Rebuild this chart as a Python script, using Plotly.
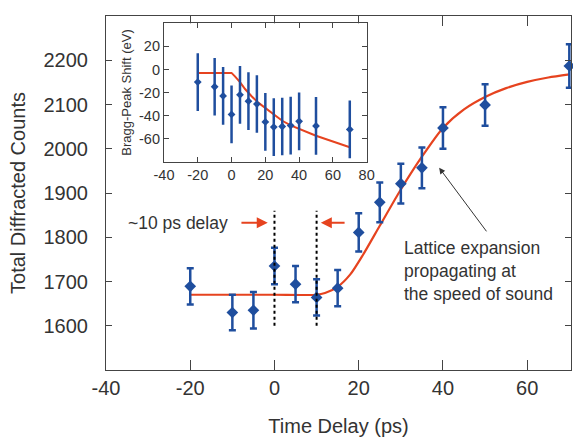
import plotly.graph_objects as go

# ---- main data: total diffracted counts vs time delay ----
time_ps = [-20, -10, -5, 0, 5, 10, 15, 20, 25, 30, 35, 40, 50, 70]
counts = [1689, 1630, 1635, 1735, 1694, 1664, 1685, 1811, 1879, 1921, 1957, 2047, 2099, 2187]
counts_err = [41, 40, 41, 41, 41, 41, 41, 43, 45, 45, 46, 47, 47, 49]

fit_time = [-20, -10, 0, 10, 12, 15, 18, 21, 25, 30, 35, 40, 45, 50, 55, 60, 65, 70]
fit_counts = [1670, 1670, 1670, 1670, 1674, 1688, 1716, 1760, 1826, 1908, 1982, 2047,
              2089, 2117, 2137, 2151, 2161, 2168]

# ---- inset data: Bragg-peak shift ----
inset_time = [-20, -10, -5, 0, 5, 10, 15, 20, 25, 30, 35, 40, 50, 70]
bragg_shift = [-11, -15, -23, -39, -22, -27.5, -30, -45.5, -50, -49.5, -48.7, -45, -49, -52]
bragg_err = [25] * len(inset_time)

inset_fit_time = [-20, 0, 2, 5, 8, 12, 16, 20, 25, 30, 35, 40, 50, 60, 70]
inset_fit_shift = [-3, -3, -6, -11, -17, -23.5, -29, -33.5, -39.5, -44.5, -48.5, -51.5,
                   -57.5, -62.5, -67.5]

# ---- ticks ----
main_xticks = [-40, -20, 0, 20, 40, 60]
main_yticks = [1600, 1700, 1800, 1900, 2000, 2100, 2200]
inset_xticks = [-40, -20, 0, 20, 40, 60, 80]
inset_yticks = [-60, -40, -20, 0, 20]

# ---- annotations data ----
delay_marks = [0, 10]
delay_span = [1600, 1860]
delay_arrow_y = 1833

BLUE = "#1f4e9e"
RED = "#e6431f"
TXT = "#333333"
AX = "#444444"
FONT = "Liberation Sans, Arial, Helvetica, sans-serif"

fig = go.Figure()

fig.add_trace(go.Scatter(x=fit_time, y=fit_counts, mode="lines",
                         line=dict(color=RED, width=2.2, shape="spline", smoothing=0.7),
                         hoverinfo="skip", showlegend=False, xaxis="x", yaxis="y"))
fig.add_trace(go.Scatter(x=time_ps, y=counts, mode="markers",
                         marker=dict(symbol="diamond", size=9, color=BLUE),
                         error_y=dict(type="data", array=counts_err, color=BLUE,
                                      thickness=2.5, width=3.5),
                         cliponaxis=False,
                         showlegend=False, xaxis="x", yaxis="y"))

for xm in delay_marks:
    fig.add_trace(go.Scatter(x=[xm, xm], y=delay_span, mode="lines",
                             line=dict(color="black", width=2, dash="dot"),
                             showlegend=False, hoverinfo="skip",
                             xaxis="x", yaxis="y"))

fig.add_trace(go.Scatter(x=inset_fit_time, y=inset_fit_shift, mode="lines",
                         line=dict(color=RED, width=2), hoverinfo="skip",
                         showlegend=False, xaxis="x2", yaxis="y2"))
fig.add_trace(go.Scatter(x=inset_time, y=bragg_shift, mode="markers",
                         marker=dict(symbol="diamond", size=6, color=BLUE),
                         error_y=dict(type="data", array=bragg_err, color=BLUE,
                                      thickness=2.5, width=0),
                         showlegend=False, xaxis="x2", yaxis="y2"))

axis_common = dict(showline=True, linecolor=AX, linewidth=1.2, mirror="ticks",
                   ticks="inside", tickcolor=AX, showgrid=False, zeroline=False,
                   automargin=False)

fig.update_layout(
    width=573, height=437, autosize=False,
    margin=dict(l=106, r=2, t=16, b=67, pad=0),
    paper_bgcolor="white", plot_bgcolor="white",
    font=dict(family=FONT, color=TXT),
    xaxis=dict(**axis_common, domain=[0, 1], range=[-40, 70.4],
               tickvals=main_xticks, ticktext=[str(v) for v in main_xticks],
               ticklen=10, tickfont=dict(size=20, color=TXT),
               title=dict(text="Time Delay (ps)", font=dict(size=20, color=TXT), standoff=20)),
    yaxis=dict(**axis_common, domain=[0, 1], range=[1500, 2300],
               tickvals=main_yticks, ticktext=[str(v) for v in main_yticks],
               ticklen=6, tickfont=dict(size=20, color=TXT), ticklabelstandoff=13,
               title=dict(text="Total Diffracted Counts", font=dict(size=20, color=TXT), standoff=12)),
    xaxis2=dict(**axis_common, domain=[0.1247, 0.5606], range=[-40, 80], anchor="y2",
                tickvals=inset_xticks, ticktext=[str(v) for v in inset_xticks],
                ticklen=5, tickfont=dict(size=14.5, color=TXT)),
    yaxis2=dict(**axis_common, domain=[0.5884, 0.9794], range=[-80, 40], anchor="x2",
                tickvals=inset_yticks, ticktext=[str(v) for v in inset_yticks],
                ticklen=5, tickfont=dict(size=14.5, color=TXT),
                title=dict(text="Bragg-Peak Shift (eV)", font=dict(size=13, color=TXT), standoff=4)),
)

# red arrows for the ~10 ps delay
fig.add_annotation(x=-1.6, y=delay_arrow_y, ax=-8.2, ay=delay_arrow_y, axref="x", ayref="y",
                   xref="x", yref="y", text="", showarrow=True, arrowhead=2, arrowsize=1.1,
                   arrowwidth=2, arrowcolor=RED)
fig.add_annotation(x=11.0, y=delay_arrow_y, ax=17.0, ay=delay_arrow_y, axref="x", ayref="y",
                   xref="x", yref="y", text="", showarrow=True, arrowhead=2, arrowsize=1.1,
                   arrowwidth=2, arrowcolor=RED)
fig.add_annotation(x=-10.6, y=delay_arrow_y, xref="x", yref="y", text="~10 ps delay",
                   showarrow=False, xanchor="right", yanchor="middle",
                   font=dict(size=17.5, color=TXT))

# lattice expansion annotation
fig.add_annotation(x=39.1, y=1957, ax=50.6, ay=1810, axref="x", ayref="y",
                   xref="x", yref="y", text="", showarrow=True, arrowhead=2,
                   arrowsize=1.2, arrowwidth=1, arrowcolor="#333333")
fig.add_annotation(x=30.3, y=1724, xref="x", yref="y",
                   text="Lattice expansion<br>propagating at<br>the speed of sound",
                   showarrow=False, xanchor="left", yanchor="middle", align="left",
                   font=dict(size=17.5, color=TXT))

fig.write_html("out.html", config={"displayModeBar": False},
               post_script="document.body.style.margin='0px';document.body.style.overflow='hidden';")
